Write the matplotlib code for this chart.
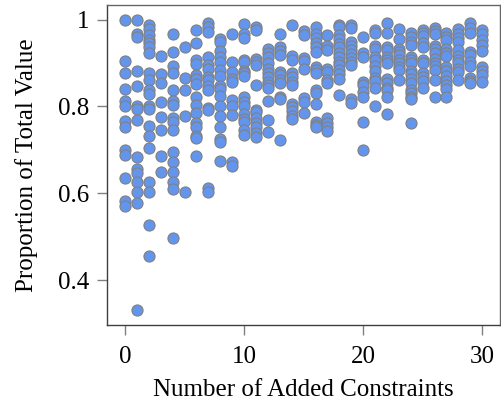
import numpy as np
import matplotlib
matplotlib.use("Agg")
import matplotlib.pyplot as plt

# proportion of total value for each number of added constraints
v00 = [1.0, 0.904, 0.877, 0.839, 0.813, 0.80, 0.766, 0.752, 0.70, 0.689, 0.635, 0.582, 0.570]
v01 = [0.998, 0.966, 0.959, 0.882, 0.847, 0.80, 0.793, 0.769, 0.684, 0.656, 0.646, 0.627, 0.604, 0.577, 0.330]
v02 = [0.987, 0.979, 0.964, 0.954, 0.945, 0.936, 0.923, 0.876, 0.861, 0.838, 0.828, 0.80, 0.793,
       0.755, 0.732, 0.705, 0.627, 0.604, 0.526, 0.455]
v03 = [0.916, 0.874, 0.854, 0.811, 0.776, 0.746, 0.686, 0.649]
v04 = [0.966, 0.926, 0.893, 0.877, 0.838, 0.813, 0.803, 0.773, 0.765, 0.746, 0.694, 0.671,
       0.648, 0.625, 0.610, 0.498]
v05 = [0.936, 0.866, 0.838, 0.777, 0.604]
v06 = [0.977, 0.945, 0.908, 0.897, 0.872, 0.864, 0.851, 0.822, 0.803, 0.784, 0.761, 0.753,
       0.732, 0.727, 0.686]
v07 = [0.991, 0.983, 0.972, 0.914, 0.895, 0.887, 0.868, 0.861, 0.847, 0.838, 0.796, 0.792, 0.612, 0.602]
v08 = [0.956, 0.949, 0.928, 0.914, 0.903, 0.884, 0.870, 0.847, 0.840, 0.824, 0.80, 0.777,
       0.752, 0.725, 0.718, 0.675]
v09 = [0.966, 0.903, 0.880, 0.864, 0.857, 0.815, 0.80, 0.780, 0.671, 0.662]
v10 = [0.989, 0.966, 0.958, 0.907, 0.902, 0.882, 0.876, 0.870, 0.822, 0.811, 0.80, 0.782,
       0.772, 0.765, 0.745, 0.734]
v11 = [0.982, 0.976, 0.910, 0.903, 0.895, 0.849, 0.792, 0.787, 0.773, 0.761, 0.752, 0.738, 0.730]
v12 = [0.933, 0.922, 0.914, 0.900, 0.887, 0.876, 0.868, 0.857, 0.849, 0.842, 0.813, 0.769, 0.742]
v13 = [0.966, 0.937, 0.928, 0.918, 0.880, 0.872, 0.861, 0.854, 0.821, 0.816, 0.723]
v14 = [0.988, 0.916, 0.908, 0.876, 0.868, 0.857, 0.849, 0.805, 0.798, 0.789, 0.778, 0.770]
v15 = [0.974, 0.965, 0.912, 0.905, 0.887, 0.819, 0.811, 0.784]
v16 = [0.983, 0.966, 0.958, 0.945, 0.936, 0.926, 0.891, 0.884, 0.876, 0.838, 0.830, 0.806,
       0.765, 0.757, 0.752]
v17 = [0.964, 0.939, 0.930, 0.887, 0.880, 0.861, 0.853, 0.773, 0.761, 0.752, 0.744]
v18 = [0.987, 0.983, 0.964, 0.956, 0.943, 0.938, 0.924, 0.914, 0.903, 0.895, 0.884, 0.874, 0.862, 0.826]
v19 = [0.988, 0.981, 0.949, 0.939, 0.929, 0.921, 0.911, 0.902, 0.896, 0.816, 0.808]
v20 = [0.961, 0.922, 0.913, 0.857, 0.849, 0.834, 0.822, 0.765, 0.699]
v21 = [0.975, 0.969, 0.940, 0.933, 0.914, 0.906, 0.893, 0.881, 0.866, 0.858, 0.843, 0.802]
v22 = [0.992, 0.968, 0.937, 0.931, 0.914, 0.906, 0.899, 0.862, 0.855, 0.843, 0.837, 0.821, 0.783]
v23 = [0.979, 0.955, 0.933, 0.926, 0.918, 0.908, 0.899, 0.890, 0.884, 0.861]
v24 = [0.968, 0.960, 0.949, 0.941, 0.914, 0.907, 0.900, 0.882, 0.875, 0.862, 0.855, 0.838,
       0.830, 0.822, 0.816, 0.762]
v25 = [0.977, 0.970, 0.962, 0.945, 0.937, 0.907, 0.899, 0.876, 0.868, 0.859, 0.842]
v26 = [0.981, 0.974, 0.966, 0.940, 0.932, 0.923, 0.910, 0.901, 0.894, 0.885, 0.861, 0.822]
v27 = [0.968, 0.960, 0.953, 0.932, 0.923, 0.916, 0.891, 0.881, 0.871, 0.859, 0.850, 0.841, 0.821]
v28 = [0.979, 0.966, 0.958, 0.949, 0.930, 0.915, 0.908, 0.899, 0.887, 0.880, 0.861]
v29 = [0.993, 0.981, 0.968, 0.926, 0.918, 0.903, 0.893, 0.866, 0.859, 0.853]
v30 = [0.977, 0.967, 0.953, 0.941, 0.927, 0.891, 0.881, 0.873, 0.857]

cols = [v00, v01, v02, v03, v04, v05, v06, v07, v08, v09, v10, v11, v12, v13, v14, v15,
        v16, v17, v18, v19, v20, v21, v22, v23, v24, v25, v26, v27, v28, v29, v30]

x = []
y = []
for n, vals in enumerate(cols):
    x += [n] * len(vals)
    y += vals

plt.rcParams['font.family'] = ['Liberation Serif', 'DejaVu Serif']

fig = plt.figure(figsize=(5.01, 4.03), dpi=100)
ax = fig.add_axes([0.214, 0.1935, 0.784, 0.794])

ax.scatter(x, y, s=64, c='cornflowerblue', edgecolors='gray', linewidths=0.8, zorder=3)

ax.set_xticks([0, 10, 20, 30])
ax.set_yticks([0.4, 0.6, 0.8, 1.0])
ax.set_yticklabels(['0.4', '0.6', '0.8', '1'])
ax.tick_params(direction='out', length=7, width=1, color='gray', labelsize=18, pad=6)
ax.tick_params(axis='x', pad=8)
for s in ax.spines.values():
    s.set_color('#404040')
    s.set_linewidth(1)
ax.spines['top'].set_color('#666666')
ax.spines['right'].set_color('#666666')

ax.set_xlabel("Number of Added Constraints", fontsize=18, labelpad=8)
ax.set_ylabel("Proportion of Total Value", fontsize=18, labelpad=14)

plt.savefig("out.png", dpi=100)
